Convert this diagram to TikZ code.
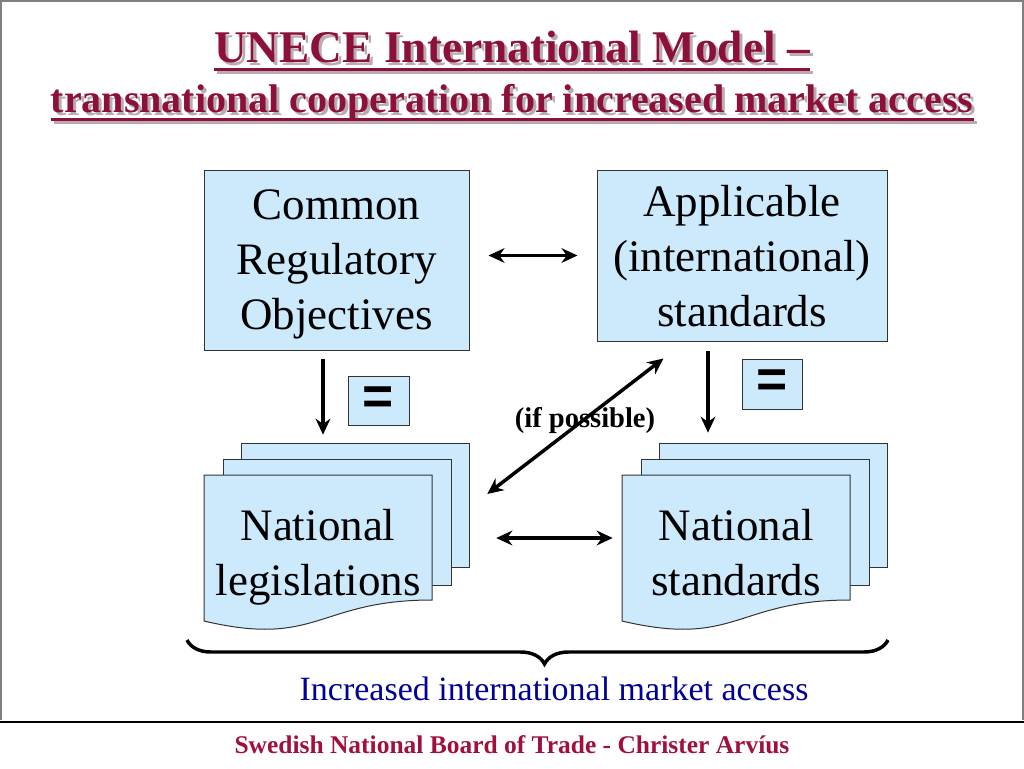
\documentclass[tikz,border=0pt]{standalone}
\usepackage{fontspec}
\setmainfont{Liberation Serif}
\newfontfamily\eqfont{Liberation Sans}
\usepackage{tikz}
\usetikzlibrary{arrows.meta,calc,decorations.pathreplacing}

\definecolor{boxblue}{RGB}{204,234,252}
\definecolor{titlered}{RGB}{140,16,58}
\definecolor{footred}{RGB}{160,16,60}
\definecolor{accessblue}{RGB}{0,0,150}
\definecolor{shadowgrey}{RGB}{185,172,176}

\tikzset{
  box/.style={draw=black!80, fill=boxblue, line width=0.75pt, inner sep=0pt, align=center,
    text depth=0pt, font=\fontsize{33.75}{41.25}\selectfont},
  sheet/.style={draw=black!80, fill=boxblue, line width=0.75pt},
  sheettext/.style={inner sep=0pt, align=center, minimum width=171pt, minimum height=115.5pt,
    text depth=0pt, font=\fontsize{33.75}{41.25}\selectfont},
  eqbox/.style={draw=black!80, fill=boxblue, line width=0.75pt, inner sep=0pt,
    font=\eqfont\bfseries\fontsize{40}{40}\selectfont},
  dblarrow/.style={line width=2.6pt, {Stealth[length=12pt,width=11pt]}-{Stealth[length=12pt,width=11pt]}},
  downarrow/.style={line width=2.8pt, -{Stealth[length=12pt,width=11pt]}},
  titletext/.style={anchor=base, inner sep=0pt, font=\bfseries\fontsize{34}{40}\selectfont},
  subtitletext/.style={anchor=base, inner sep=0pt, font=\bfseries\fontsize{30}{36}\selectfont},
}

\begin{document}
\begin{tikzpicture}[x=0.75pt,y=0.75pt,yscale=-1,xscale=1]
        \useasboundingbox (0,0) rectangle (1024,768);

        %Shape: slide frame
        \draw [color=gray, line width=1.2pt] (1,720) -- (1,1) -- (1023,1) -- (1023,720) ;
        \draw [line width=1.5pt] (0,722) -- (1024,722) ;

        % Text Node (title, shadow first)
        \draw (515,65) node (ttlAs) [titletext, color=shadowgrey] {UNECE International Model --};
        \draw [shadowgrey, line width=2.25pt] ($(ttlAs.base west)+(0,7)$) -- ($(ttlAs.base east)+(0,7)$);
        \draw (512,62) node (ttlA) [titletext, color=titlered] {UNECE International Model --};
        \draw [titlered, line width=2.25pt] ($(ttlA.base west)+(0,7)$) -- ($(ttlA.base east)+(0,7)$);
        % Text Node
        \draw (515,115) node (ttlBs) [subtitletext, color=shadowgrey] {transnational cooperation for increased market access};
        \draw [shadowgrey, line width=2.25pt] ($(ttlBs.base west)+(0,7)$) -- ($(ttlBs.base east)+(0,7)$);
        \draw (512,112) node (ttlB) [subtitletext, color=titlered] {transnational cooperation for increased market access};
        \draw [titlered, line width=2.25pt] ($(ttlB.base west)+(0,7)$) -- ($(ttlB.base east)+(0,7)$);

        % Text Node
        \draw (336.5,260) node (cro) [box, minimum width=198.75pt, minimum height=135pt] {Common\\Regulatory\\Objectives};
        % Text Node
        \draw (742,255.5) node (ais) [box, minimum width=217.5pt, minimum height=128.25pt] {Applicable\\(international)\\standards};

        % Text Node
        \draw (378.5,400.5) node (eqL) [eqbox, minimum width=45.75pt, minimum height=36.75pt] {=};
        % Text Node
        \draw (772,384) node (eqR) [eqbox, minimum width=45pt, minimum height=37.5pt] {=};

        %Shape: stacked sheets, legislations
        \draw [sheet] (241,443) rectangle (469,567) ;
        \draw [sheet] (223,459) rectangle (451,585) ;
        \draw [sheet] (204,475) -- (432,475) -- (432,600) .. controls (318,600) and (318,648) .. (204,621) -- cycle ;
        % Text Node
        \draw (318,552) node (natleg) [sheettext] {National\\legislations};

        %Shape: stacked sheets, standards
        \draw [sheet] (659,443) rectangle (887,567) ;
        \draw [sheet] (641,459) rectangle (869,585) ;
        \draw [sheet] (622,475) -- (850,475) -- (850,600) .. controls (736,600) and (736,648) .. (622,621) -- cycle ;
        % Text Node
        \draw (736,552) node (natstd) [sheettext] {National\\standards};

        % Text Node
        \draw (585,420) node (ifposs) [font=\bfseries\fontsize{21.4}{25}\selectfont] {(if possible)};

        %Straight Lines
        \draw [dblarrow, shorten <=14.25pt, shorten >=14.25pt] (cro.east |- ais.west) -- (ais.west) ;
        \draw [dblarrow] ($(natleg.east)+(64,-14)$) -- ($(natstd.west)+(-9,-14)$) ;
        \draw [dblarrow] ($(natleg.east)+(55,-58)$) -- ($(ais.south west)+(67,17)$) ;
        \draw [downarrow] ($(cro.south)+(-13.5,8)$) -- ($(natleg.north)+(5,-40)$) ;
        \draw [downarrow] ($(ais.south)+(-34,9)$) -- ($(natstd.north)+(-28,-42)$) ;

        %Shape: Brace
        \draw [line width=2.6pt, decorate, decoration={brace, amplitude=18pt, aspect=0.49}] (888,640) -- (187,640) ;

        % Text Node
        \draw (554,689) node (access) [color=accessblue, font=\fontsize{25.5}{30}\selectfont] {Increased international market access};
        % Text Node
        \draw (512,745) node (footer) [color=footred, font=\bfseries\fontsize{19.1}{22}\selectfont] {Swedish National Board of Trade - Christer Arvíus};

\end{tikzpicture}
\end{document}
